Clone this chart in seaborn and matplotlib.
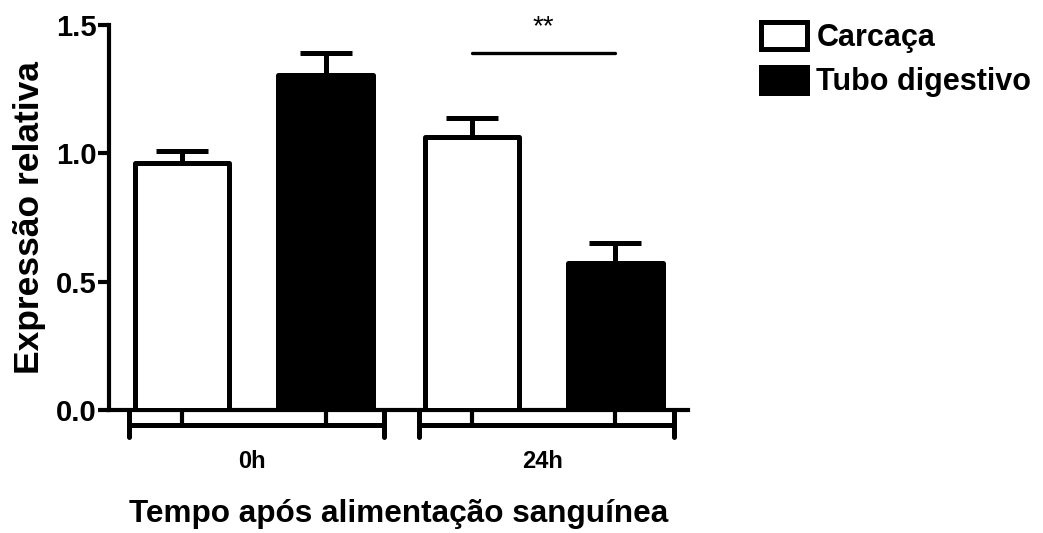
import numpy as np
import pandas as pd
import matplotlib
matplotlib.use('Agg')
import matplotlib.pyplot as plt
from matplotlib.patches import Patch
import seaborn as sns

# values (relative expression, mean + upper error)
groups = ['0h', '24h']
tissues = ['Carcaça', 'Tubo digestivo']
carcaca_mean = [0.963, 1.065]
tubo_mean = [1.305, 0.571]
carcaca_err = [0.046, 0.071]
tubo_err = [0.085, 0.078]
yticks = [0.0, 0.5, 1.0, 1.5]
sig_label = '**'
sig_y = 1.392

sns.set_theme(style='white')
plt.rcParams['font.family'] = ['Liberation Sans', 'DejaVu Sans']
plt.rcParams['font.weight'] = 'bold'
for key in ['text.color', 'axes.labelcolor', 'xtick.color', 'ytick.color']:
  plt.rcParams[key] = 'black'

df = pd.DataFrame({
  'tempo': groups * 2,
  'tecido': [tissues[0]] * 2 + [tissues[1]] * 2,
  'valor': carcaca_mean + tubo_mean,
  'erro': carcaca_err + tubo_err,
})

fig = plt.figure(figsize=(10.43, 5.33), dpi=100)
ax = fig.add_axes([0.1045, 0.2308, 0.5556, 0.7223])

palette = {tissues[0]: 'white', tissues[1]: 'black'}
sns.barplot(data=df, x='tempo', y='valor', hue='tecido', order=groups, hue_order=tissues,
            palette=palette, errorbar=None, width=0.99, gap=0.34, edgecolor='black',
            linewidth=3.6, legend=False, ax=ax, zorder=3)

# upward-only error bars at the bar centres
centres = {}
for container, tissue in zip(ax.containers, tissues):
  sub = df[df.tecido == tissue].set_index('tempo').loc[groups]
  xs = [p.get_x() + p.get_width() / 2 for p in container]
  centres[tissue] = xs
  for p in container:
    p.set_joinstyle('round')
  ax.errorbar(xs, sub.valor, yerr=[np.zeros(len(xs)), sub.erro], fmt='none',
              ecolor='black', elinewidth=3.6, capsize=19, capthick=3.6, zorder=2)

ax.set_xlim(-0.5, 1.5)
ax.set_ylim(0, 1.5)
ax.set_yticks(yticks)
ax.set_yticklabels([f'{t:.1f}' for t in yticks], fontsize=21, fontweight='bold')
ax.tick_params(axis='y', length=8, width=3, pad=1, left=True)
ax.tick_params(axis='x', length=0, labelbottom=False)
sns.despine(ax=ax)
for side in ['left', 'bottom']:
  ax.spines[side].set_linewidth(3)
  ax.spines[side].set_color('black')

# Prism-style grouped axis under the x axis
xt = ax.get_xaxis_transform()
for g, name in enumerate(groups):
  left, right = g - 0.43, g + 0.45
  ax.plot([left, right], [-0.039, -0.039], transform=xt, color='black', lw=3.6,
          clip_on=False, solid_capstyle='butt')
  for x in [left, right]:
    ax.plot([x, x], [0, -0.07], transform=xt, color='black', lw=3.6, clip_on=False,
            solid_capstyle='round')
  for tissue in tissues:
    x = centres[tissue][g]
    ax.plot([x, x], [0, -0.039], transform=xt, color='black', lw=3, clip_on=False)
  ax.text(g - 0.005, -0.133, name, transform=xt, ha='center', va='center',
          fontsize=17, fontweight='bold')

ax.set_ylabel('Expressão relativa', fontsize=25.5, fontweight='bold', labelpad=7)
ax.set_xlabel('Tempo após alimentação sanguínea', fontsize=22.7, fontweight='bold')
ax.xaxis.set_label_coords(0.5, -0.232)

# significance bar between the 24h bars
x0, x1 = centres[tissues[0]][1], centres[tissues[1]][1]
ax.plot([x0, x1], [sig_y, sig_y], color='black', lw=2.4, clip_on=False)
ax.text((x0 + x1) / 2, 1.49, sig_label, ha='center', va='center', fontsize=20,
        fontweight='normal', clip_on=False)

handles = [Patch(facecolor=palette[t], edgecolor='black', linewidth=3.6, joinstyle='round')
           for t in tissues]
fig.legend(handles, tissues, loc='upper left', bbox_to_anchor=(0.730, 0.958),
           frameon=False, prop={'weight': 'bold', 'size': 22},
           handlelength=1.5, handleheight=0.95, handletextpad=0.3, labelspacing=0.45,
           borderpad=0, borderaxespad=0)

plt.savefig('out.png', dpi=100)
